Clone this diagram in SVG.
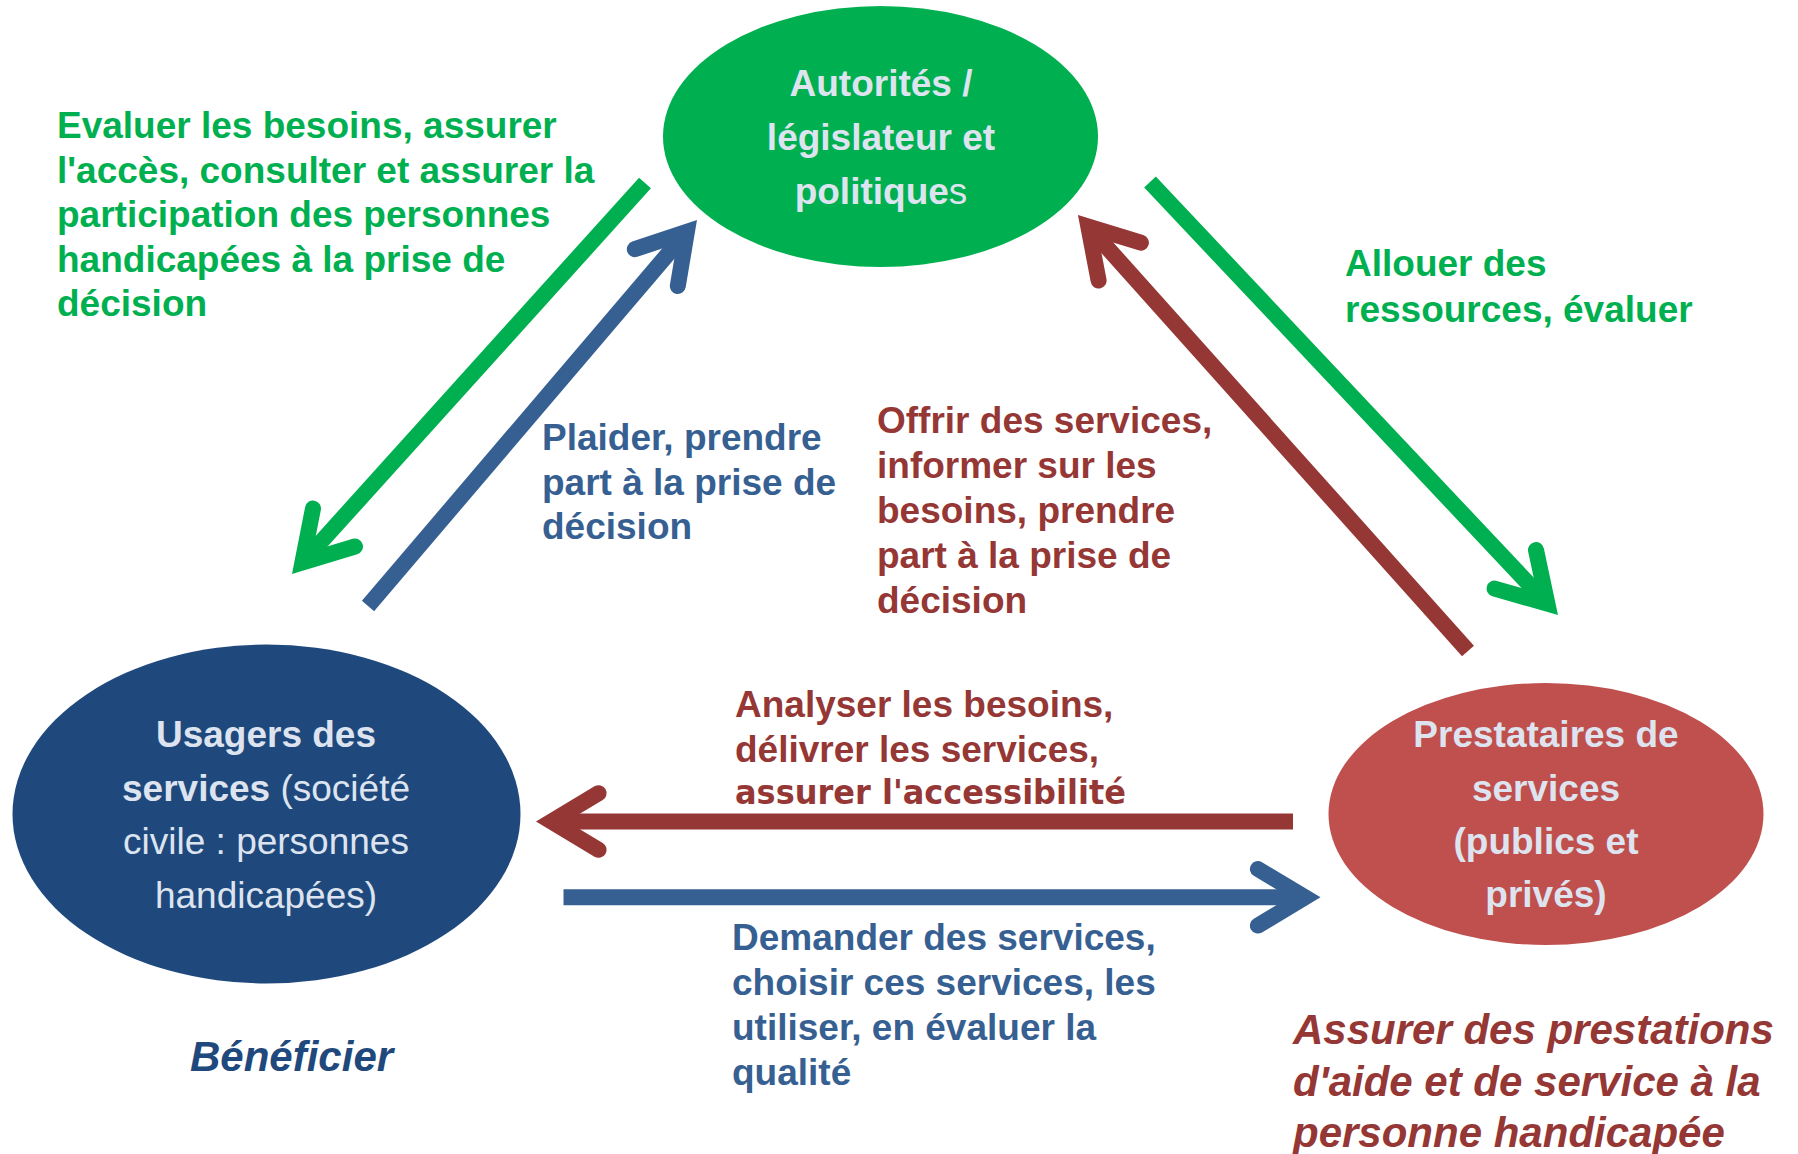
<svg xmlns="http://www.w3.org/2000/svg" width="1798" height="1154" viewBox="0 0 1798 1154">
<style>
.t{font-family:"Liberation Sans",Arial,sans-serif;font-size:37px;font-weight:bold}
.n{font-family:"Liberation Sans",Arial,sans-serif;font-size:37px;font-weight:bold;fill:#DDE4EF;text-anchor:middle}
.reg{font-weight:normal}
.it{font-family:"Liberation Sans",Arial,sans-serif;font-size:42px;font-weight:bold;font-style:italic}
.comic{font-family:"Comic Sans MS","DejaVu Sans",sans-serif;font-size:33px;font-weight:bold}
.gt{fill:#00B050}.bt{fill:#376092}.rt{fill:#953735}
.sh{fill:none;stroke-width:16;stroke-linecap:butt}
.hd{fill:none;stroke-width:16;stroke-linecap:round;stroke-linejoin:miter;stroke-miterlimit:10}
.g{stroke:#00B050}.b{stroke:#376092}.r{stroke:#953735}
</style>
<rect width="1798" height="1154" fill="#FFFFFF"/>
<g id="connectors">
  <g id="c-auth-users">
    <path class="sh g" d="M645,183 L302.4,562.5"/>
    <path class="hd g" d="M355,546.5 L302.4,562.5 L313,508.5"/>
  </g>
  <g id="c-users-auth">
    <path class="sh b" d="M368,606 L686.9,231.8"/>
    <path class="hd b" d="M634.8,249.2 L686.9,231.8 L677.8,286"/>
  </g>
  <g id="c-auth-prov">
    <path class="sh g" d="M1150,182 L1547.4,603.7"/>
    <path class="hd g" d="M1536,550 L1547.4,603.7 L1494.6,588.6"/>
  </g>
  <g id="c-prov-auth">
    <path class="sh r" d="M1468,651 L1088.3,226.5"/>
    <path class="hd r" d="M1098.6,280.6 L1088.3,226.5 L1140.9,242.7"/>
  </g>
  <g id="c-prov-users">
    <path class="sh r" d="M1293,821.5 L551.5,821.5"/>
    <path class="hd r" d="M598.6,793.2 L551.5,821.5 L598.6,849.8"/>
  </g>
  <g id="c-users-prov">
    <path class="sh b" d="M563.5,897.3 L1305,897.3"/>
    <path class="hd b" d="M1257.9,869 L1305,897.3 L1257.9,925.6"/>
  </g>
</g>
<g id="node-autorites">
  <ellipse cx="880.5" cy="136.5" rx="217.5" ry="130.5" fill="#00B050"/>
  <text class="n" x="881" y="95.5">Autorités /</text>
  <text class="n" x="881" y="149.5">législateur et</text>
  <text class="n" x="881" y="203.5">politique<tspan class="reg">s</tspan></text>
</g>
<g id="node-usagers">
  <ellipse cx="266.5" cy="814" rx="254" ry="169.5" fill="#1F497D"/>
  <text class="n" x="266" y="747">Usagers des</text>
  <text class="n" x="266" y="801">services<tspan class="reg"> (société</tspan></text>
  <text class="n reg" x="266" y="854">civile : personnes</text>
  <text class="n reg" x="266" y="908">handicapées)</text>
</g>
<g id="node-prestataires">
  <ellipse cx="1546" cy="814" rx="217.5" ry="131" fill="#C0504D"/>
  <text class="n" x="1546" y="747">Prestataires de</text>
  <text class="n" x="1546" y="801">services</text>
  <text class="n" x="1546" y="854">(publics et</text>
  <text class="n" x="1546" y="907">privés)</text>
</g>
<g id="labels">
  <text class="t gt" x="57" y="138">Evaluer les besoins, assurer</text>
  <text class="t gt" x="57" y="182.5">l'accès, consulter et assurer la</text>
  <text class="t gt" x="57" y="227">participation des personnes</text>
  <text class="t gt" x="57" y="271.5">handicapées à la prise de</text>
  <text class="t gt" x="57" y="316">décision</text>

  <text class="t gt" x="1345" y="276">Allouer des</text>
  <text class="t gt" x="1345" y="322">ressources, évaluer</text>

  <text class="t bt" x="542" y="450">Plaider, prendre</text>
  <text class="t bt" x="542" y="494.5">part à la prise de</text>
  <text class="t bt" x="542" y="539">décision</text>

  <text class="t rt" x="877" y="433">Offrir des services,</text>
  <text class="t rt" x="877" y="478">informer sur les</text>
  <text class="t rt" x="877" y="523">besoins, prendre</text>
  <text class="t rt" x="877" y="568">part à la prise de</text>
  <text class="t rt" x="877" y="612.5">décision</text>

  <text class="t rt" x="735" y="717">Analyser les besoins,</text>
  <text class="t rt" x="735" y="762">délivrer les services,</text>
  <text class="comic rt" x="735" y="804" textLength="391" lengthAdjust="spacingAndGlyphs">assurer l'accessibilité</text>

  <text class="t bt" x="732" y="950">Demander des services,</text>
  <text class="t bt" x="732" y="995">choisir ces services, les</text>
  <text class="t bt" x="732" y="1040">utiliser, en évaluer la</text>
  <text class="t bt" x="732" y="1085">qualité</text>

  <text class="it" x="190" y="1071" fill="#1F497D" font-size="41">Bénéficier</text>

  <text class="it rt" x="1293" y="1044">Assurer des prestations</text>
  <text class="it rt" x="1293" y="1096">d'aide et de service à la</text>
  <text class="it rt" x="1293" y="1147">personne handicapée</text>
</g>
</svg>
